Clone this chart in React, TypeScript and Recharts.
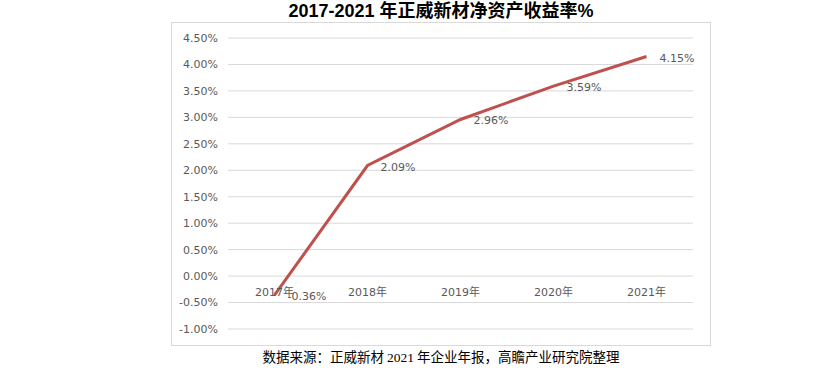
import React from "react";
import { LineChart, Line, XAxis, YAxis, CartesianGrid, LabelList } from "recharts";

const years = ["2017年", "2018年", "2019年", "2020年", "2021年"];
const roe = [-0.36, 2.09, 2.96, 3.59, 4.15];
const yTicks = [-1, -0.5, 0, 0.5, 1, 1.5, 2, 2.5, 3, 3.5, 4, 4.5];

const data = years.map((year, i) => ({ year, roe: roe[i] }));

const W = 540;
const H = 324;
const X_AXIS_H = 17;
const M = { top: 16, right: 18, bottom: 0, left: 7 };
const Y_MIN = -1;
const Y_MAX = 4.5;
const PLOT_H = H - M.top - M.bottom - X_AXIS_H;
const ZERO_Y = M.top + (PLOT_H * Y_MAX) / (Y_MAX - Y_MIN);

const FONT = "'DejaVu Sans', 'Noto Sans CJK SC', sans-serif";
const GREY = "#595959";

function YearTick(props: any) {
  const { x, payload } = props;
  return (
    <text x={x} y={ZERO_Y + 17} textAnchor="middle" dominantBaseline="middle" fill={GREY} fontSize={11} fontFamily={FONT}>
      {payload.value}
    </text>
  );
}

function ValueLabel(props: any) {
  const { x, y, value } = props;
  return (
    <text x={x + 13} y={y + 2} textAnchor="start" dominantBaseline="middle" fill={GREY} fontSize={11} fontFamily={FONT}>
      {`${Number(value).toFixed(2)}%`}
    </text>
  );
}

export default function App() {
  return (
    <div style={{ position: "absolute", left: 0, top: 0, width: 821, height: 370, background: "#fff" }}>
      <div
        style={{
          position: "absolute", left: 171, top: 0, width: W, textAlign: "center",
          fontFamily: "'Liberation Sans', 'Noto Sans CJK SC', sans-serif", fontWeight: 700,
          fontSize: 18, lineHeight: "22px", color: "#000",
        }}
      >
        2017-2021 年正威新材净资产收益率%
      </div>
      <div
        style={{
          position: "absolute", left: 171, top: 22, width: W, height: H,
          border: "1px solid #d9d9d9", boxSizing: "border-box",
        }}
      />
      <div style={{ position: "absolute", left: 171, top: 22 }}>
        <LineChart width={W} height={H} data={data} margin={M}>
          <CartesianGrid vertical={false} stroke="#d9d9d9" strokeWidth={1} />
          <XAxis
            dataKey="year"
            height={X_AXIS_H}
            axisLine={false}
            tickLine={false}
            padding={{ left: 46.5, right: 46.5 }}
            tick={<YearTick />}
            interval={0}
          />
          <YAxis
            width={50}
            domain={[Y_MIN, Y_MAX]}
            ticks={yTicks}
            axisLine={false}
            tickLine={false}
            tickMargin={4}
            tickFormatter={(v: number) => `${v.toFixed(2)}%`}
            tick={{ fill: GREY, fontSize: 11, fontFamily: FONT }}
          />
          <Line
            type="linear"
            dataKey="roe"
            stroke="#c0504d"
            strokeWidth={3}
            dot={false}
            isAnimationActive={false}
          >
            <LabelList dataKey="roe" content={<ValueLabel />} />
          </Line>
        </LineChart>
      </div>
      <div
        style={{
          position: "absolute", left: 171, top: 347, width: W, textAlign: "center",
          fontFamily: "'Noto Sans CJK SC', sans-serif", fontSize: 13.5, lineHeight: "18px", color: "#000",
        }}
      >
        数据来源：正威新材 <span style={{ fontFamily: "'Liberation Serif', serif" }}>2021</span> 年企业年报，高瞻产业研究院整理
      </div>
    </div>
  );
}
